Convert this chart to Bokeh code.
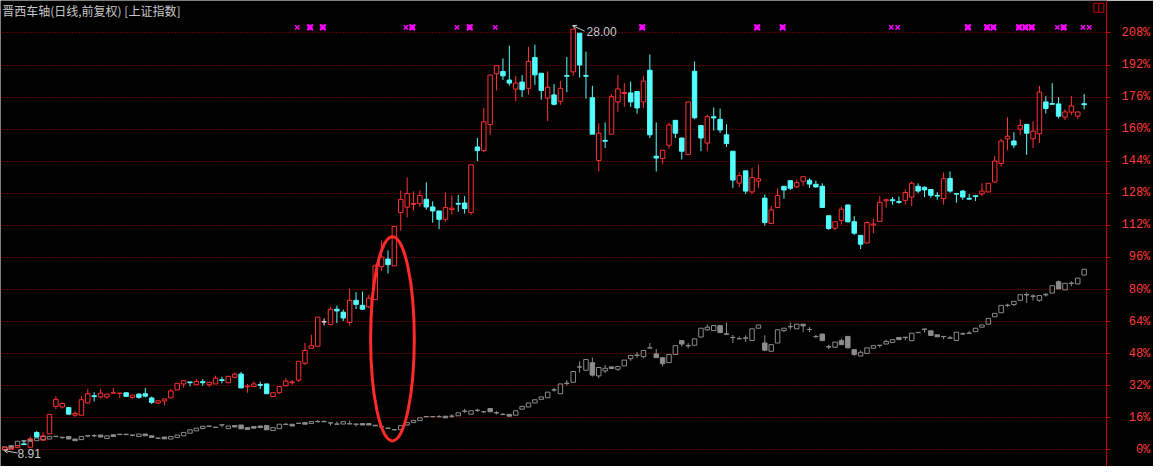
from bokeh.plotting import figure
from bokeh.models import (Range1d, LinearAxis, FixedTicker, CustomJSTickFormatter,
                          Label, Arrow, OpenHead, ColumnDataSource, Grid)
from bokeh.embed import file_html
from bokeh.resources import INLINE

# ---------------- data (percent change vs. base) ----------------
title_text = "晋西车轴(日线,前复权) [上证指数]"
tick_pcts = list(range(0, 209, 16))
high_label = "28.00"
low_label = "8.91"

stock_open = [0.2,0.3,1.1,3.0,1.3,8.7,4.8,8.0,21.7,21.4, 21.1,17.3,17.3,23.4,27.0,26.4,26.4,28.3,28.2,28.5,
              26.2,27.8,28.0,25.9,23.4,24.4,25.9,29.9,32.9,33.9, 32.5,34.0,32.5,32.9,35.0,33.5,36.2,37.8,31.5,31.6,
              32.6,32.9,26.6,28.5,32.0,33.5,34.8,43.2,50.7,51.7, 63.9,62.5,70.2,68.7,63.6,74.6,72.1,71.3,75.0,91.4,
              95.2,91.8,118.4,121.1,122.5,122.8,125.0,121.2,119.2,115.0, 119.9,123.0,123.2,118.4,151.1,149.3,162.3,187.6,188.8,184.5,
              180.0,183.5,180.4,195.8,187.9,175.5,177.1,173.9,186.8,188.6, 207.9,186.8,175.7,144.4,154.4,157.5,173.6,177.8,178.1,178.8,
              173.6,189.4,146.5,145.4,152.0,164.4,155.6,147.3,188.9,161.8, 153.1,166.2,164.9,157.2,149.0,133.1,139.2,128.7,134.1,125.6,
              113.0,120.9,131.5,134.3,131.2,134.0,134.5,132.5,131.5,116.8, 110.6,114.5,122.2,113.8,107.0,103.2,112.2,114.0,124.3,124.8,
              123.9,124.5,126.1,131.5,131.0,129.9,127.0,125.3,135.4,127.8, 129.1,125.5,126.8,127.7,128.7,133.6,142.9,155.2,154.1,160.0,
              162.4,155.2,157.7,173.6,172.8,172.6,166.0,168.5,166.5,172.7]
stock_close = [1.3,1.0,2.1,2.6,5.4,6.4,7.0,17.7,25.2,23.1, 17.8,18.2,25.0,28.0,26.6,28.3,27.8,28.5,28.3,26.7,
               27.3,26.2,26.8,23.7,24.5,25.4,29.4,33.2,34.5,33.5, 34.2,33.5,33.7,35.8,34.6,36.7,37.8,30.9,31.9,32.9,
               32.2,28.0,28.5,31.6,34.3,33.9,44.2,49.6,52.0,66.2, 63.9,70.2,69.3,65.8,74.6,72.6,70.2,75.7,91.8,96.2,
               92.4,111.4,125.0,127.9,122.9,126.9,121.2,119.2,115.0,120.9, 120.6,122.6,120.4,142.2,149.3,163.7,187.0,191.7,186.6,183.0,
               183.0,179.7,193.8,187.1,179.3,180.9,172.4,180.4,186.4,209.9, 192.0,186.4,157.5,158.0,154.0,176.2,180.1,178.3,173.6,170.6,
               184.0,157.2,145.6,149.5,162.1,158.0,149.0,173.6,165.7,155.6, 166.2,165.6,159.6,152.8,134.6,136.8,129.1,135.8,135.3,113.4,
               119.7,126.9,129.7,130.5,133.3,136.3,132.6,131.2,120.9,110.4, 113.8,120.1,113.8,108.1,102.6,113.4,112.7,123.5,124.8,124.3,
               123.5,128.4,133.0,129.1,129.7,127.0,126.6,135.3,129.1,127.6, 126.1,125.1,126.4,129.1,133.0,144.1,154.1,156.5,152.1,161.9,
               158.0,159.0,178.5,170.3,172.4,166.5,168.6,171.6,168.6,172.2]
stock_high = [1.5,1.0,2.1,4.8,6.7,9.3,8.7,17.7,26.8,23.7, 21.1,19.3,26.8,30.4,28.8,30.4,27.8,30.9,28.3,28.5,
              27.3,28.3,30.9,26.6,24.5,25.4,30.4,33.2,34.8,33.9, 35.3,35.3,33.7,37.0,36.5,36.7,38.6,38.9,32.9,34.2,
              34.0,32.9,28.5,31.6,35.8,34.8,44.2,53.3,57.4,66.2, 65.6,71.3,72.0,70.0,80.5,78.7,79.0,77.4,92.6,104.5,
              99.5,111.4,129.4,135.9,128.9,129.5,133.5,124.0,119.2,128.4, 127.0,127.2,126.6,142.2,155.6,170.6,187.0,191.7,195.3,201.7,
              186.6,187.0,201.0,202.2,187.9,188.9,182.5,184.0,196.0,209.9, 207.9,198.7,181.6,162.9,163.3,177.6,187.0,183.0,183.7,178.8,
              186.6,197.3,163.4,149.5,163.3,164.4,155.6,173.6,193.8,161.8, 167.3,170.8,170.3,162.4,149.0,138.4,139.2,140.8,142.3,127.4,
              121.7,130.5,131.5,134.3,134.8,136.3,135.4,134.3,133.0,116.8, 113.8,121.2,122.2,116.6,107.0,114.0,115.3,126.6,125.3,126.1,
              126.4,129.9,134.0,133.0,131.5,129.9,128.6,138.4,138.9,128.1, 129.7,127.7,127.2,133.0,133.0,146.6,155.1,165.9,158.5,164.9,
              162.4,163.9,181.6,176.5,183.0,176.0,169.9,176.5,168.6,177.6]
stock_low = [0.0,0.3,1.1,2.6,1.3,6.4,4.8,8.0,20.3,20.6, 17.8,16.5,17.3,23.4,24.2,25.5,25.5,28.3,25.9,26.7,
             25.5,25.5,26.2,22.9,22.9,22.2,25.9,29.9,31.1,31.7, 32.5,32.0,31.3,32.9,33.2,33.5,35.7,30.9,28.5,31.6,
             30.4,28.0,26.2,28.0,31.6,32.5,33.9,42.3,50.7,51.7, 62.0,62.5,63.3,64.3,62.0,70.2,69.8,70.8,75.0,89.3,
             88.0,91.8,109.3,116.0,119.4,121.2,119.9,113.4,110.1,113.8, 117.4,118.8,117.9,117.3,144.1,148.5,157.2,179.3,184.5,181.7,
             173.9,176.0,177.3,182.1,174.7,164.0,171.9,172.2,178.5,186.6, 185.8,175.2,157.5,138.9,150.6,157.5,168.6,171.1,171.1,167.8,
             170.6,155.6,138.9,142.5,150.3,155.6,144.9,147.3,165.0,149.0, 149.0,159.3,158.0,151.1,130.7,131.0,127.7,127.7,130.7,111.9,
             113.0,120.9,125.3,129.7,130.7,131.7,130.7,130.7,120.9,109.8, 109.6,112.4,113.4,107.3,100.2,103.2,108.1,114.0,120.9,122.3,
             122.8,122.3,121.7,128.1,126.1,125.8,124.8,122.3,128.2,123.3, 124.8,124.8,124.2,126.6,128.7,133.6,141.3,149.5,150.6,157.2,
             147.2,150.6,153.1,167.8,172.4,165.4,164.5,167.0,165.0,169.9]

index_open = [-0.1,2.1,2.1,4.3,5.4,4.6,5.1,5.4,6.6,6.3, 6.7,5.4,5.1,6.9,7.0,7.4,5.7,7.5,7.6,7.8,
              7.4,6.7,7.9,7.0,5.9,6.4,5.4,6.2,7.0,8.3, 9.5,10.6,11.7,11.3,12.4,10.6,12.1,12.4,11.1,11.6,
              11.9,12.1,9.7,10.6,12.6,12.8,13.3,13.6,13.2,14.0, 14.2,13.5,12.9,12.9,12.9,12.9,13.1,13.1,12.3,11.6,
              10.9,10.1,10.0,12.4,13.6,14.6,16.5,16.6,16.5,16.8, 16.7,17.0,19.2,17.8,19.7,19.1,20.6,18.4,17.6,17.7,
              17.3,20.3,21.4,23.4,25.2,26.0,29.8,28.0,33.1,33.7, 41.3,39.7,43.5,36.9,39.4,41.4,40.2,41.9,45.5,47.1,
              46.5,50.8,47.9,46.0,43.5,47.6,54.5,51.9,52.2,56.3, 59.9,59.5,62.0,57.9,56.1,55.5,55.7,54.6,60.7,53.3,
              49.2,53.3,59.5,61.4,60.4,62.7,60.1,56.5,57.8,51.5, 51.2,54.5,56.6,50.0,46.8,48.1,50.7,52.2,52.8,53.6,
              56.1,56.2,54.5,58.5,60.3,59.4,57.4,56.6,55.7,54.6, 57.8,58.1,59.0,61.2,62.7,66.4,68.4,72.0,72.5,74.6,
              77.5,76.6,74.6,77.3,78.2,83.9,79.8,83.0,82.8,87.2]
index_close = [1.5,0.8,4.3,4.6,4.3,5.9,6.7,6.7,6.8,6.1, 5.4,4.6,6.7,7.1,7.1,6.4,7.0,6.7,7.8,7.6,
               7.3,7.9,7.0,6.2,5.8,5.5,6.7,7.4,8.7,10.0, 10.8,11.8,11.9,11.2,12.5,11.9,11.4,10.5,10.2,10.8,
               11.1,10.0,11.1,12.8,12.8,11.9,13.2,12.8,14.1,14.1, 14.0,13.4,12.8,14.1,13.1,12.8,12.4,12.4,12.0,11.5,
               10.7,10.0,12.1,13.6,14.7,16.0,16.6,16.5,16.6,16.0, 16.9,18.5,19.4,19.5,19.8,19.0,19.0,18.6,17.7,16.8,
               19.5,21.7,23.4,25.0,26.4,28.8,30.0,32.9,33.3,39.1, 41.4,45.1,37.3,41.1,40.7,40.6,41.6,44.8,47.1,47.3,
               49.6,50.9,46.0,43.0,47.6,52.0,52.8,52.1,55.4,60.7, 61.2,62.0,58.5,57.7,56.0,55.4,55.9,60.4,62.3,49.7,
               52.5,59.9,60.7,61.6,62.7,61.9,60.0,56.6,54.5,51.3, 53.8,52.5,50.9,47.6,48.7,50.9,52.0,52.1,54.1,55.0,
               55.0,56.0,58.2,58.6,60.1,57.1,56.4,56.5,55.9,58.7, 57.9,58.3,60.7,62.3,65.6,68.1,72.1,72.2,74.1,77.4,
               77.3,76.8,77.0,77.6,81.9,80.3,83.1,83.2,85.7,90.1]
index_high = [1.5,2.1,4.3,4.6,5.4,5.9,6.7,6.7,6.8,6.3, 6.7,5.4,6.7,7.1,7.9,7.4,7.0,7.5,7.8,7.8,
              7.4,7.9,7.9,7.0,5.9,6.4,6.7,7.4,8.7,10.0, 10.8,11.8,11.9,11.3,12.5,11.9,12.1,12.4,11.1,11.6,
              11.9,12.1,11.1,12.8,13.4,12.8,13.3,13.6,14.1,14.9, 14.7,13.5,14.1,14.1,14.6,12.9,13.1,13.1,12.3,12.1,
              10.9,10.1,12.1,13.6,14.7,16.0,16.6,16.6,17.3,16.8, 17.7,18.5,20.5,19.5,20.5,19.1,20.6,19.3,18.4,17.7,
              19.5,21.7,23.4,25.0,26.4,28.8,30.9,32.9,34.8,39.1, 44.2,45.1,46.1,41.1,42.3,41.4,41.6,44.8,47.1,48.8,
              49.6,53.3,50.3,46.0,47.6,52.0,54.5,53.3,55.4,60.7, 62.6,62.0,62.0,63.5,57.4,56.6,57.1,60.4,62.3,57.1,
              52.5,59.9,60.7,63.5,62.7,62.7,61.2,57.4,57.8,52.5, 53.8,55.5,56.6,50.0,49.6,50.9,52.0,52.2,55.0,55.0,
              56.1,56.2,58.2,58.6,60.3,59.4,57.4,56.6,56.9,58.7, 58.7,59.4,60.7,62.3,65.6,68.1,72.1,72.9,74.1,77.4,
              78.6,77.6,77.0,78.2,81.9,84.5,83.1,84.1,85.7,90.1]
index_low = [-0.1,0.8,2.1,4.3,4.3,4.6,5.1,5.4,6.6,5.5, 5.4,4.6,5.1,6.3,6.3,6.4,5.7,6.7,7.6,7.6,
             6.8,6.7,7.0,6.2,5.8,5.5,5.4,6.2,7.0,8.3, 9.5,10.6,11.7,11.2,11.3,10.6,11.4,10.5,10.2,10.8,
             11.1,10.0,9.7,10.6,12.4,11.9,13.2,12.8,13.2,14.0, 14.0,12.1,12.8,12.9,12.9,11.6,12.4,12.4,12.0,11.5,
             10.7,9.6,10.0,12.4,13.6,14.6,16.5,16.5,16.5,16.0, 16.0,17.0,18.4,17.8,18.9,18.3,19.0,17.7,17.6,16.8,
             17.3,20.3,21.4,23.4,25.2,26.0,29.0,28.0,32.1,33.7, 38.6,39.7,36.5,35.7,38.3,40.6,39.4,41.9,44.4,45.9,
             45.7,50.8,46.0,41.6,43.5,47.6,51.5,50.6,52.2,56.3, 59.4,59.5,58.5,57.7,53.3,55.4,53.9,54.6,60.7,49.7,
             49.2,53.3,58.7,59.9,60.4,58.7,58.7,55.7,54.5,50.3, 51.2,52.5,50.9,46.9,46.8,48.1,50.7,51.0,52.8,53.6,
             55.0,54.7,54.5,58.5,58.5,57.1,56.4,55.3,55.7,54.6, 57.4,58.1,59.0,61.2,62.7,66.4,68.4,71.3,71.8,74.6,
             73.3,74.5,73.9,76.5,78.2,80.3,79.8,81.6,82.8,87.2]

signal_big = [48, 50, 64, 73, 100, 118, 122, 151, 154, 155, 159, 160, 161, 166]
signal_small = [46, 63, 71, 77, 139, 140, 165, 169, 170]

for arr in (stock_close, stock_high, stock_low, index_open, index_close, index_high, index_low):
    assert len(arr) == len(stock_open), len(arr)

# ---------------- styles ----------------
RED = "#FF3232"
CYAN = "#54FFFF"
GRAY = "#8C8C8C"
WHITE = "#E6E6E6"
MAGENTA = "#FF00FF"
GRID_RED = "#B40000"
AXIS_RED = "#C80000"
LABEL_RED = "#FF3C3C"
TEXT_GRAY = "#C8C8C8"
BODY_W = 0.7

p = figure(width=1153, height=466, x_range=Range1d(-0.67, 172.5), y_range=Range1d(-8.3, 224.2),
           x_axis_location=None, y_axis_location=None,
           output_backend="svg", toolbar_location=None,
           background_fill_color="black", border_fill_color="black",
           min_border_left=0, min_border_top=0, min_border_bottom=0, min_border_right=47)
p.outline_line_color = None

# drop the default grids, add the dotted red percentage grid
p.center = [r for r in p.center if not isinstance(r, Grid)]
p.add_layout(Grid(dimension=1, ticker=FixedTicker(ticks=tick_pcts), grid_line_color=GRID_RED,
                  grid_line_dash="1 2", grid_line_width=1))

yaxis = LinearAxis(ticker=FixedTicker(ticks=tick_pcts),
                   formatter=CustomJSTickFormatter(code="""
const s = Math.round(tick).toString() + '%';
let pad = '';
for (let k = s.length; k < 4; k++) { pad += '\\u00a0'; }
return pad + s;
"""),
                   axis_line_color=AXIS_RED, major_tick_line_color=AXIS_RED,
                   major_tick_out=4, major_tick_in=0, minor_tick_line_color=None,
                   major_label_text_color=LABEL_RED, major_label_text_font="Liberation Mono",
                   major_label_text_font_size="12px", major_label_standoff=11)
p.add_layout(yaxis, "right")


def candles(opens, closes, highs, lows, up_color, down_color, flat_color):
    x = list(range(len(opens)))
    wick = dict(x=[], y0=[], y1=[], c=[])
    bodies = {"up": dict(x=[], top=[], bottom=[]), "down": dict(x=[], top=[], bottom=[]),
              "flat": dict(x=[], top=[], bottom=[])}
    for i, o, c, h, l in zip(x, opens, closes, highs, lows):
        kind = "up" if c > o else ("down" if c < o else "flat")
        col = {"up": up_color, "down": down_color, "flat": flat_color}[kind]
        hi_b, lo_b = max(o, c), min(o, c)
        if h > hi_b:
            wick["x"].append(i); wick["y0"].append(hi_b); wick["y1"].append(h); wick["c"].append(col)
        if l < lo_b:
            wick["x"].append(i); wick["y0"].append(l); wick["y1"].append(lo_b); wick["c"].append(col)
        b = bodies[kind]
        b["x"].append(i); b["top"].append(hi_b); b["bottom"].append(lo_b)
    p.segment(x0="x", y0="y0", x1="x", y1="y1", line_color="c", line_width=1,
              source=ColumnDataSource(wick))
    p.vbar(x="x", top="top", bottom="bottom", width=BODY_W, source=ColumnDataSource(bodies["up"]),
           fill_alpha=0, line_color=up_color, line_width=1)
    p.vbar(x="x", top="top", bottom="bottom", width=BODY_W, source=ColumnDataSource(bodies["down"]),
           fill_color=down_color, line_color=down_color, line_width=1)
    p.vbar(x="x", top="top", bottom="bottom", width=BODY_W, source=ColumnDataSource(bodies["flat"]),
           fill_color=flat_color, line_color=flat_color, line_width=1)


# overlay index first (behind), then the stock
candles(index_open, index_close, index_high, index_low, GRAY, GRAY, GRAY)
candles(stock_open, stock_close, stock_high, stock_low, RED, CYAN, WHITE)

# signal markers along the top
SIG_Y = 210.8
p.scatter(x=[i - 0.2 for i in signal_big], y=[SIG_Y] * len(signal_big), marker="x", size=8,
          line_color=MAGENTA, line_width=2)
p.scatter(x=[i - 0.2 for i in signal_big], y=[SIG_Y] * len(signal_big), marker="square", size=5,
          fill_color=MAGENTA, line_color=None)
p.scatter(x=[i - 0.2 for i in signal_small], y=[SIG_Y] * len(signal_small), marker="x", size=6,
          line_color=MAGENTA, line_width=1.5)

# highlight ellipse around the breakout
p.ellipse(x=[60.7], y=[55.4], width=[6.84], height=[102], fill_alpha=0,
          line_color="#FF2A2A", line_width=3)

# high / low markers
i_hi = max(range(len(stock_high)), key=lambda k: stock_high[k])
i_lo = min(range(len(stock_low)), key=lambda k: stock_low[k])
p.add_layout(Arrow(x_start=i_hi + 1.8, y_start=208.9, x_end=i_hi - 0.1, y_end=stock_high[i_hi] + 1.8,
                   line_color=TEXT_GRAY, line_width=1,
                   end=OpenHead(size=4, line_color=TEXT_GRAY, line_width=1)))
p.add_layout(Label(x=i_hi + 2.1, y=208.6, text=high_label, text_baseline="middle",
                   text_font="Liberation Sans", text_font_size="12px", text_color=TEXT_GRAY))
p.add_layout(Arrow(x_start=i_lo + 2.0, y_start=-1.6, x_end=i_lo - 0.1, y_end=stock_low[i_lo] - 0.3,
                   line_color=TEXT_GRAY, line_width=1,
                   end=OpenHead(size=4, line_color=TEXT_GRAY, line_width=1)))
p.add_layout(Label(x=i_lo + 2.0, y=-2.0, text=low_label, text_baseline="middle",
                   text_font="Liberation Sans", text_font_size="12px", text_color=TEXT_GRAY))

# title
p.add_layout(Label(x=-0.4, y=223.4, text=title_text, text_baseline="top",
                   text_font="Noto Sans CJK SC", text_font_size="12px", text_color=TEXT_GRAY))

# small window-control icons in the top-right corner
p.rect(x=[171.3], y=[220.6], width=10, height=9, width_units="screen", height_units="screen",
       fill_alpha=0, line_color=AXIS_RED, line_width=1)
p.segment(x0=[171.3], y0=[218.4], x1=[171.3], y1=[222.8], line_color=AXIS_RED, line_width=1)
p.add_layout(Label(x=178.0, y=220.6, text="◇", text_baseline="middle", text_align="center",
                   text_font="DejaVu Sans", text_font_size="11px", text_color=RED))

open("out.html", "w").write(file_html(p, INLINE))
